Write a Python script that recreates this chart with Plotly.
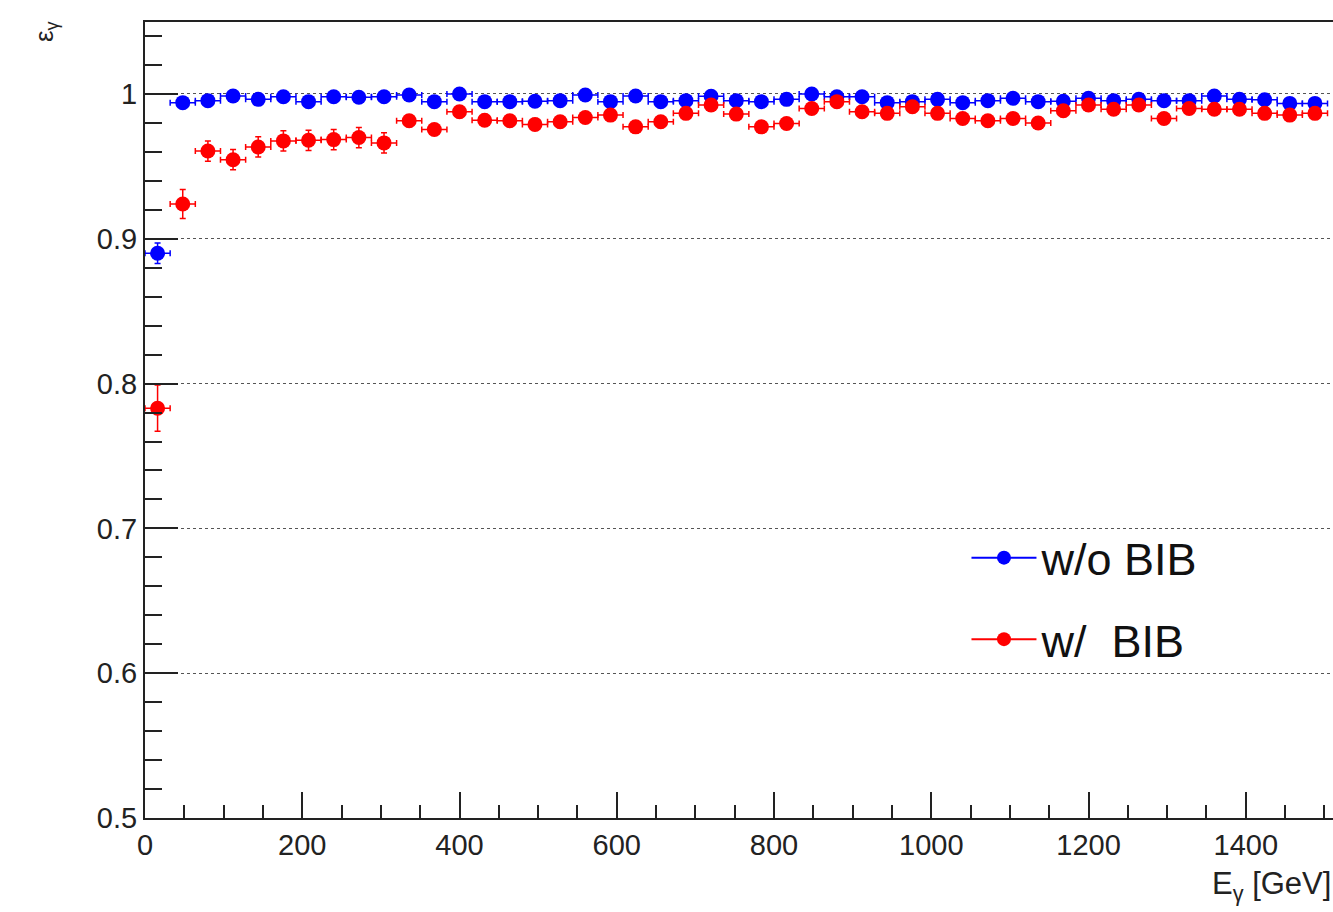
import plotly.graph_objects as go

# Photon efficiency vs photon energy, 32 GeV bins
bin_width = 32.0
n_bins = 47
e_centers = [bin_width * (i + 0.5) for i in range(n_bins)]

eff_no_bib = [
    0.890, 0.994, 0.9954, 0.9986, 0.9963, 0.9981, 0.9947, 0.9981, 0.9977, 0.9981,
    0.9993, 0.9947, 1.000, 0.9947, 0.9947, 0.9950, 0.9954, 0.9993, 0.9947, 0.9986,
    0.9947, 0.9954, 0.9984, 0.9954, 0.9947, 0.9963, 1.000, 0.998, 0.9981, 0.994,
    0.9947, 0.9963, 0.994, 0.9954, 0.997, 0.9947, 0.995, 0.997, 0.9954, 0.9963,
    0.9954, 0.9954, 0.9986, 0.9963, 0.996, 0.9935, 0.9935,
]
err_no_bib = [0.007, 0.003] + [0.002] * (n_bins - 2)

eff_bib = [
    0.783, 0.924, 0.9606, 0.9546, 0.9634, 0.9676, 0.968, 0.9685, 0.9699, 0.9662,
    0.9815, 0.9755, 0.9877, 0.9819, 0.9815, 0.9790, 0.9808, 0.9838, 0.9854, 0.9773,
    0.9808, 0.9866, 0.9924, 0.9861, 0.9773, 0.9796, 0.990, 0.9947, 0.9877, 0.9866,
    0.9912, 0.9866, 0.9831, 0.9815, 0.9831, 0.980, 0.9884, 0.9924, 0.9894, 0.9924,
    0.9831, 0.990, 0.9894, 0.9894, 0.9866, 0.9854, 0.9866,
]
err_bib = [0.016, 0.010] + [0.007] * 8 + [0.004] * (n_bins - 10)

half_width = [bin_width / 2] * n_bins

X_MAX = 1600.0      # full axis range of the frame
X_VIEW = 1510.6     # right edge of the visible window, in GeV

BLUE = "#0000ff"
RED = "#ff0000"
AXIS = "#222"
FONT = "Liberation Sans, Arial, Helvetica, sans-serif"

fig = go.Figure()


def add_series(name, y, yerr, color, group):
    fig.add_trace(go.Scatter(
        x=e_centers, y=y, mode="markers", name=name, showlegend=False,
        marker=dict(color=color, size=15, symbol="circle"),
        error_x=dict(type="data", array=half_width, color=color, thickness=1.5, width=3),
        error_y=dict(type="data", array=yerr, color=color, thickness=1.5, width=3),
    ))
    # legend entry drawn as line + marker
    fig.add_trace(go.Scatter(
        x=[None], y=[None], mode="lines+markers", name=name, legendgroup=group,
        line=dict(color=color, width=2), marker=dict(color=color, size=14),
    ))


add_series("w/o BIB", eff_no_bib, err_no_bib, BLUE, "a")
add_series("w/  BIB", eff_bib, err_bib, RED, "b")

fig.update_layout(
    width=1403, height=912,
    margin=dict(l=145, r=0, t=22, b=94),
    paper_bgcolor="white", plot_bgcolor="white",
    font=dict(family=FONT, color=AXIS, size=29),
    showlegend=True,
    legend=dict(
        x=0.653, y=0.372, xanchor="left", yanchor="top",
        font=dict(size=45, color="#111"),
        bgcolor="rgba(0,0,0,0)", tracegroupgap=20, itemwidth=65,
    ),
    xaxis=dict(
        range=[0, X_MAX], showgrid=False, zeroline=False,
        showline=True, linecolor=AXIS, linewidth=2, mirror=True,
        ticks="inside", ticklen=26, tickwidth=1.5, tickcolor=AXIS,
        tick0=0, dtick=200, tickfont=dict(size=29, color=AXIS),
        minor=dict(dtick=50, ticks="inside", ticklen=13, tickwidth=1.5, tickcolor=AXIS),
    ),
    yaxis=dict(
        range=[0.5, 1.0497], zeroline=False,
        showline=True, linecolor=AXIS, linewidth=2, mirror=False,
        showgrid=True, gridcolor="#555", gridwidth=1, griddash="dot",
        ticks="inside", ticklen=33, tickwidth=1.5, tickcolor=AXIS,
        tickvals=[0.5, 0.6, 0.7, 0.8, 0.9, 1.0],
        ticktext=["0.5", "0.6", "0.7", "0.8", "0.9", "1"],
        tickfont=dict(size=29, color=AXIS),
        minor=dict(dtick=0.02, tick0=0.5, ticks="inside", ticklen=17, tickwidth=1.5,
                   tickcolor=AXIS, showgrid=False),
    ),
    annotations=[
        dict(text="E<sub>γ</sub> [GeV]", xref="x", yref="paper", x=X_VIEW, y=-0.058,
             xanchor="right", yanchor="top", showarrow=False,
             font=dict(size=31, color=AXIS)),
        dict(text="ε<sub>γ</sub>", xref="paper", yref="paper", x=-0.0795, y=1.005,
             xanchor="center", yanchor="top", textangle=-90, showarrow=False,
             font=dict(size=26, color=AXIS)),
    ],
)

# the page shows the left part of the frame only
fig.write_html(
    "out.html",
    post_script="document.documentElement.style.overflow='hidden';"
                "document.body.style.overflow='hidden';document.body.style.margin='0';",
)
